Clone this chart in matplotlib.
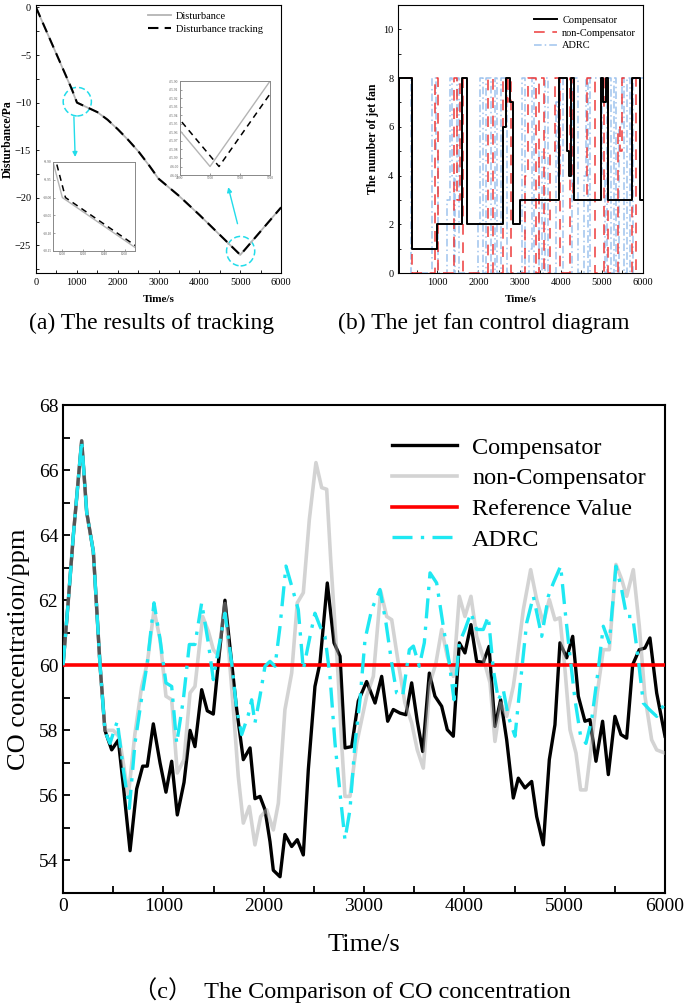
import numpy as np
import matplotlib
matplotlib.use("Agg")
import matplotlib.pyplot as plt
from matplotlib.patches import Ellipse
from matplotlib.ticker import MultipleLocator

plt.rcParams['font.family'] = ['Liberation Serif', 'Noto Sans CJK SC']
plt.rcParams['mathtext.fontset'] = 'stix'

# ---------------- (a) disturbance tracking ----------------
dist_t = [0, 870, 1000, 1250, 1500, 1750, 2000, 2250, 2500, 2750, 3000, 3500, 4000, 4500, 5000, 6000]
dist_v = [0, -8.55, -10.0, -10.5, -11.0, -11.8, -12.8, -13.9, -15.1, -16.5, -18.0, -19.8, -21.8, -23.9, -26.0, -21.0]
trk_t = [0, 873, 1003, 1253, 1503, 1753, 2003, 2253, 2503, 2753, 3003, 3503, 4003, 4503, 5003, 6000]
trk_v = [0, -8.55, -10.0, -10.5, -11.0, -11.8, -12.8, -13.9, -15.1, -16.5, -18.0, -19.8, -21.8, -23.9, -26.0, -21.015]

# ---------------- (b) jet fan count ----------------
fan_comp_t = [50, 68, 391, 985, 1594, 1716, 2607, 2665, 2770, 2851, 3014, 3972, 4151, 4207, 4256, 4336,
              4986, 5042, 5100, 5164, 5748, 5936, 6000]
fan_comp_v = [0, 8, 1, 2, 8, 2, 6, 8, 7, 2, 3, 8, 5, 4, 8, 3, 8, 7, 8, 3, 8, 3, 3]
fan_non_t = [50, 77, 391, 943, 1024, 1414, 1490, 1552, 1633, 2240, 2363, 2607, 2690, 2729, 2800, 3130, 3211,
             3390, 3480, 3600, 3740, 3860, 3982, 4230, 4307, 4632, 4835, 5062, 5160, 5400, 5450, 5485, 5728,
             5840, 6000]
fan_non_v = [0, 8, 0, 8, 0, 8, 3, 8, 0, 8, 0, 8, 7, 8, 0, 4, 8, 0, 8, 0, 5, 8, 0, 8, 3, 8, 0, 8, 0, 6, 5, 8,
             0, 8, 8]
fan_adrc_t = [50, 60, 370, 880, 960, 1010, 1240, 1300, 1350, 1400, 1440, 1490, 1530, 1640, 2000, 2050, 2120,
              2180, 2300, 2400, 2440, 2560, 2700, 2980, 3070, 3140, 3240, 3300, 3360, 3480, 3540, 3620, 3700,
              3880, 3940, 3990, 4060, 4290, 4420, 4560, 4620, 4660, 4720, 5000, 5080, 5130, 5230, 5300, 5350,
              5420, 5500, 5540, 5620, 5700, 5760, 6000]
fan_adrc_v = [0, 8, 0, 8, 5, 0, 3, 8, 4, 0, 4, 8, 0, 0, 2, 8, 0, 8, 0, 8, 0, 8, 0, 0, 8, 0, 1, 8, 0, 5, 0, 8,
              0, 7, 4, 8, 0, 8, 0, 4, 8, 0, 8, 4, 0, 8, 0, 8, 0, 6, 8, 0, 8, 0, 8, 8]

# ---------------- (c) CO concentration ----------------
comp_time = [0, 53, 103, 186, 236, 302, 369, 418, 485, 551, 601, 668, 734, 794, 840, 900, 967, 1026, 1083,
             1139, 1206, 1266, 1315, 1382, 1438, 1498, 1548, 1614, 1681, 1731, 1797, 1864, 1913, 1963, 2013,
             2063, 2096, 2163, 2212, 2279, 2335, 2395, 2445, 2511, 2561, 2634, 2701, 2761, 2810, 2877, 2943,
             3026, 3110, 3176, 3236, 3292, 3359, 3418, 3475, 3531, 3585, 3651, 3707, 3774, 3830, 3890, 3950,
             4006, 4066, 4123, 4189, 4246, 4305, 4362, 4422, 4488, 4538, 4604, 4671, 4721, 4787, 4847, 4903,
             4953, 5020, 5080, 5136, 5202, 5252, 5312, 5378, 5435, 5501, 5561, 5618, 5678, 5744, 5800, 5850,
             5917, 6000]
comp_co = [60.0, 62.0, 64.0, 66.9, 64.7, 63.5, 60.0, 58.0, 57.4, 57.7, 56.3, 54.3, 56.2, 56.9, 56.9, 58.2,
           57.0, 56.1, 57.05, 55.4, 56.4, 58.0, 57.5, 59.25, 58.6, 58.5, 60.07, 62.0, 60.07, 58.64, 57.1, 57.46,
           55.9, 55.97, 55.56, 54.58, 53.7, 53.5, 54.8, 54.43, 54.64, 54.17, 56.8, 59.35, 60.07, 62.53, 60.69,
           60.28, 57.46, 57.5, 58.9, 59.5, 58.84, 59.66, 58.28, 58.64, 58.53, 58.48, 59.46, 58.28, 57.35, 59.76,
           59.05, 58.74, 58.02, 57.82, 60.69, 60.38, 61.25, 60.12, 60.09, 60.58, 58.12, 58.94, 57.71, 55.92,
           56.53, 56.23, 56.43, 55.35, 54.48, 57.1, 58.17, 60.69, 60.23, 60.89, 59.05, 58.28, 58.33, 57.05,
           58.28, 56.64, 58.43, 57.87, 57.76, 60.02, 60.48, 60.53, 60.84, 59.15, 57.82]

non_time = [0, 53, 103, 186, 236, 302, 369, 418, 501, 560, 651, 717, 784, 840, 907, 967, 1026, 1083, 1139,
            1206, 1266, 1315, 1392, 1448, 1498, 1548, 1614, 1698, 1747, 1797, 1857, 1913, 1970, 2030, 2096,
            2146, 2212, 2279, 2335, 2395, 2455, 2521, 2578, 2628, 2668, 2711, 2744, 2777, 2810, 2860, 2927,
            3026, 3093, 3166, 3226, 3276, 3342, 3408, 3475, 3531, 3591, 3658, 3717, 3774, 3830, 3890, 3950,
            4006, 4066, 4123, 4189, 4256, 4305, 4362, 4422, 4488, 4521, 4588, 4661, 4721, 4787, 4847, 4903,
            4953, 5003, 5053, 5113, 5159, 5212, 5269, 5325, 5385, 5445, 5511, 5568, 5618, 5684, 5744, 5800,
            5867, 5917, 6000]
non_co = [60, 62, 64, 66.9, 64.7, 63.5, 60, 58, 58.0, 57.8, 56.0, 57.9, 59.35, 60.07, 61.7, 60.8, 59.05,
          58.94, 56.69, 57.1, 59.15, 59.35, 61.5, 61.05, 60.48, 60.3, 61.9, 58.64, 56.58, 55.15, 55.66, 54.48,
          55.35, 55.56, 54.94, 55.76, 58.64, 59.76, 61.92, 62.23, 64.48, 66.23, 65.46, 65.41, 63.25, 61.2,
          59.56, 57.6, 55.97, 55.97, 57.6, 59.05, 59.66, 62.28, 61.5, 61.4, 60.07, 58.84, 58.23, 57.4, 56.84,
          59.46, 60.07, 61.1, 60.28, 59.66, 62.12, 61.5, 62.12, 60.89, 60.23, 59.46, 57.66, 58.84, 58.43,
          59.35, 60.07, 61.71, 62.94, 62.02, 61.3, 62.02, 61.4, 61.46, 59.87, 58.02, 57.3, 56.17, 56.17, 57.6,
          59.15, 60.48, 60.48, 63.1, 62.64, 62.12, 62.94, 61.2, 59.05, 57.71, 57.4, 57.3]

adrc_time = [0, 53, 103, 186, 236, 302, 369, 418, 468, 541, 601, 661, 717, 784, 840, 907, 967, 1026, 1083,
             1133, 1199, 1259, 1315, 1382, 1448, 1498, 1548, 1614, 1681, 1731, 1781, 1847, 1880, 1913, 1963,
             2013, 2063, 2113, 2163, 2222, 2289, 2345, 2395, 2462, 2511, 2561, 2611, 2661, 2711, 2761, 2810,
             2860, 2910, 2960, 3010, 3076, 3159, 3219, 3276, 3325, 3385, 3452, 3492, 3551, 3601, 3658, 3724,
             3790, 3850, 3897, 3950, 4006, 4066, 4123, 4189, 4239, 4289, 4339, 4388, 4438, 4505, 4555, 4621,
             4688, 4771, 4837, 4887, 4960, 5003, 5053, 5103, 5159, 5212, 5269, 5335, 5385, 5445, 5511, 5568,
             5618, 5678, 5734, 5784, 5844, 5917, 6000]
adrc_co = [60, 62, 64, 66.9, 64.7, 63.5, 60, 57.97, 57.6, 58.28, 56.79, 55.6, 57.6, 59.0, 60.07, 61.92, 60.8,
           59.46, 59.35, 57.6, 58.94, 60.64, 60.64, 61.92, 60.69, 59.56, 60.48, 61.6, 60.07, 58.64, 57.87,
           58.48, 58.94, 58.23, 59.05, 59.97, 60.12, 59.97, 61.2, 63.05, 62.33, 61.71, 59.87, 60.89, 61.6,
           61.2, 60.89, 59.66, 57.6, 56.07, 54.64, 55.56, 57.6, 58.94, 60.79, 61.71, 62.33, 61.3, 60.07,
           59.15, 59.05, 60.48, 60.59, 59.97, 60.69, 62.84, 62.53, 61.2, 60.07, 58.94, 60.69, 61.1, 61.61,
           61.1, 61.1, 61.5, 59.87, 58.94, 59.25, 58.43, 57.82, 59.35, 61.3, 62.12, 60.89, 62.12, 62.53,
           63.05, 61.71, 60.28, 58.94, 57.82, 57.6, 58.33, 59.87, 61.2, 60.69, 63.05, 62.33, 61.5, 61.5,
           60.17, 58.84, 58.64, 58.43, 58.84]
reference = 60

fig = plt.figure(figsize=(6.85, 10.06), dpi=100)

# ===== panel (a) =====
axa = fig.add_axes([0.0526, 0.7286, 0.3577, 0.2664])
axa.plot(dist_t, dist_v, color='#b4b4b4', lw=1.3, label='Disturbance')
axa.plot(trk_t, trk_v, color='black', lw=1.5, ls=(0, (5, 3)), label='Disturbance tracking')
axa.set_xlim(0, 6000)
axa.set_ylim(-27.9, 0.25)
axa.xaxis.set_major_locator(MultipleLocator(1000))
axa.xaxis.set_minor_locator(MultipleLocator(500))
axa.yaxis.set_minor_locator(MultipleLocator(2.5))
axa.tick_params(which='both', direction='in', labelsize=7.5, length=2.5, width=0.6)
axa.set_yticks([0, -5, -10, -15, -20, -25])
axa.set_yticklabels(['0', '\u22125', '\u221210', '\u221215', '\u221220', '\u221225'])
for s in axa.spines.values():
    s.set_linewidth(0.8)
axa.set_xlabel('Time/s', fontsize=8, fontweight='bold', labelpad=6)
axa.set_ylabel('Disturbance/Pa', fontsize=8.5, fontweight='bold', labelpad=1)
axa.legend(loc='upper left', bbox_to_anchor=(0.43, 1.0), frameon=False, fontsize=7.5,
           handlelength=2.2, handletextpad=0.5, labelspacing=0.35, borderaxespad=0.2)

axa.add_patch(Ellipse((1010, -9.9), 690, 3.0, fill=False, ec='#22dcea', ls=(0, (4, 2)), lw=1.1))
axa.add_patch(Ellipse((5010, -25.6), 690, 3.1, fill=False, ec='#22dcea', ls=(0, (4, 2)), lw=1.1))
axa.annotate('', xy=(960, -16.0), xytext=(925, -11.2),
             arrowprops=dict(arrowstyle='-|>', color='#22dcea', lw=1.0, mutation_scale=7))
axa.annotate('', xy=(4690, -18.6), xytext=(4950, -23.0),
             arrowprops=dict(arrowstyle='-|>', color='#22dcea', lw=1.0, mutation_scale=7))

ins1 = fig.add_axes([0.0774, 0.7505, 0.1197, 0.0885])
ins1.plot(dist_t, dist_v, color='#b4b4b4', lw=1.0)
ins1.plot(trk_t, trk_v, color='black', lw=1.1, ls=(0, (4, 3)))
ins1.set_xlim(991, 1070)
ins1.set_ylim(-10.15, -9.90)
ins1.set_xticks([1000, 1020, 1040, 1060])
ins1.set_yticks([-9.90, -9.95, -10.00, -10.05, -10.10, -10.15])
ins1.set_yticklabels(['-9.90', '-9.95', '-10.00', '-10.05', '-10.10', '-10.15'])

ins2 = fig.add_axes([0.2628, 0.8260, 0.1314, 0.0934])
ins2.plot(dist_t, dist_v, color='#b4b4b4', lw=1.0)
ins2.plot(trk_t, trk_v, color='black', lw=1.1, ls=(0, (4, 3)))
ins2.set_xlim(4990, 5020)
ins2.set_ylim(-26.01, -25.90)
ins2.set_xticks([4990, 5000, 5010, 5020])
ins2_ticks = np.round(np.arange(-26.01, -25.895, 0.01), 2)
ins2.set_yticks(ins2_ticks)
ins2.set_yticklabels(['%.2f' % v for v in ins2_ticks])
for ins in (ins1, ins2):
    ins.tick_params(labelsize=2.6, length=1.2, width=0.4, pad=1, colors='#555555', direction='in')
    for s in ins.spines.values():
        s.set_color('#888888')
        s.set_linewidth(0.7)

# ===== panel (b) =====
axb = fig.add_axes([0.5815, 0.7286, 0.3568, 0.2664])
axb.plot(fan_adrc_t, fan_adrc_v, drawstyle='steps-post', color='#9fc3ee', lw=1.1,
         ls=(0, (5, 2, 1, 2)), label='ADRC', zorder=2)
axb.plot(fan_non_t, fan_non_v, drawstyle='steps-post', color='#ee3a3a', lw=1.1,
         ls=(0, (7, 5)), label='non-Compensator', zorder=3)
axb.plot(fan_comp_t, fan_comp_v, drawstyle='steps-post', color='black', lw=1.4,
         label='Compensator', zorder=4)
axb.set_xlim(50, 6000)
axb.set_ylim(0, 11)
axb.set_xticks([1000, 2000, 3000, 4000, 5000, 6000])
axb.xaxis.set_minor_locator(MultipleLocator(500))
axb.yaxis.set_major_locator(MultipleLocator(2))
axb.yaxis.set_minor_locator(MultipleLocator(1))
axb.tick_params(which='both', direction='in', labelsize=7.5, length=2.5, width=0.6)
for s in axb.spines.values():
    s.set_linewidth(0.8)
axb.set_xlabel('Time/s', fontsize=8, fontweight='bold', labelpad=6)
axb.set_ylabel('The number of jet fan', fontsize=8.5, fontweight='bold', labelpad=3)
h, l = axb.get_legend_handles_labels()
axb.legend([h[2], h[1], h[0]], [l[2], l[1], l[0]], loc='upper left', bbox_to_anchor=(0.53, 0.985),
           frameon=False, fontsize=7.5, handlelength=2.2, handletextpad=0.5, labelspacing=0.35,
           borderaxespad=0.2)

fig.text(152 / 685, 1 - 323 / 1006, '(a) The results of tracking', ha='center', va='center', fontsize=17)
fig.text(484 / 685, 1 - 323 / 1006, '(b) The jet fan control diagram', ha='center', va='center',
         fontsize=17)

# ===== panel (c) =====
axc = fig.add_axes([0.092, 0.1123, 0.8788, 0.4851])
axc.plot(comp_time, comp_co, color='black', lw=2.4, label='Compensator', zorder=3)
axc.plot(non_time, non_co, color='#a8a8a8', alpha=0.5, lw=2.6, label='non-Compensator', zorder=4)
axc.axhline(reference, color='#ff0000', lw=2.6, label='Reference Value', zorder=5)
axc.plot(adrc_time, adrc_co, color='#1ee8f2', lw=2.4, ls=(0, (6, 2.5, 1, 2.5)), label='ADRC', zorder=6)
axc.set_xlim(0, 6000)
axc.set_ylim(53, 68)
axc.xaxis.set_major_locator(MultipleLocator(1000))
axc.xaxis.set_minor_locator(MultipleLocator(500))
axc.yaxis.set_major_locator(MultipleLocator(2))
axc.yaxis.set_minor_locator(MultipleLocator(1))
axc.tick_params(which='both', direction='in', labelsize=14, length=5, width=1.3)
for s in axc.spines.values():
    s.set_linewidth(1.5)
axc.set_xlabel('Time/s', fontsize=19, labelpad=14)
axc.set_ylabel('CO concentration/ppm', fontsize=19, labelpad=6)
leg = axc.legend(loc='upper left', bbox_to_anchor=(0.53, 0.955), frameon=False, fontsize=17.5,
                 handlelength=2.7, handletextpad=0.6, labelspacing=0.36, borderaxespad=0.0)
for line in leg.get_lines():
    line.set_alpha(1.0)
leg.get_lines()[1].set_color('#d3d3d3')

fig.text(352 / 685, 1 - 990 / 1006, '\uff08c\uff09  The Comparison of CO concentration', ha='center',
         va='center', fontsize=17.5)

fig.savefig('out.png', dpi=100)
